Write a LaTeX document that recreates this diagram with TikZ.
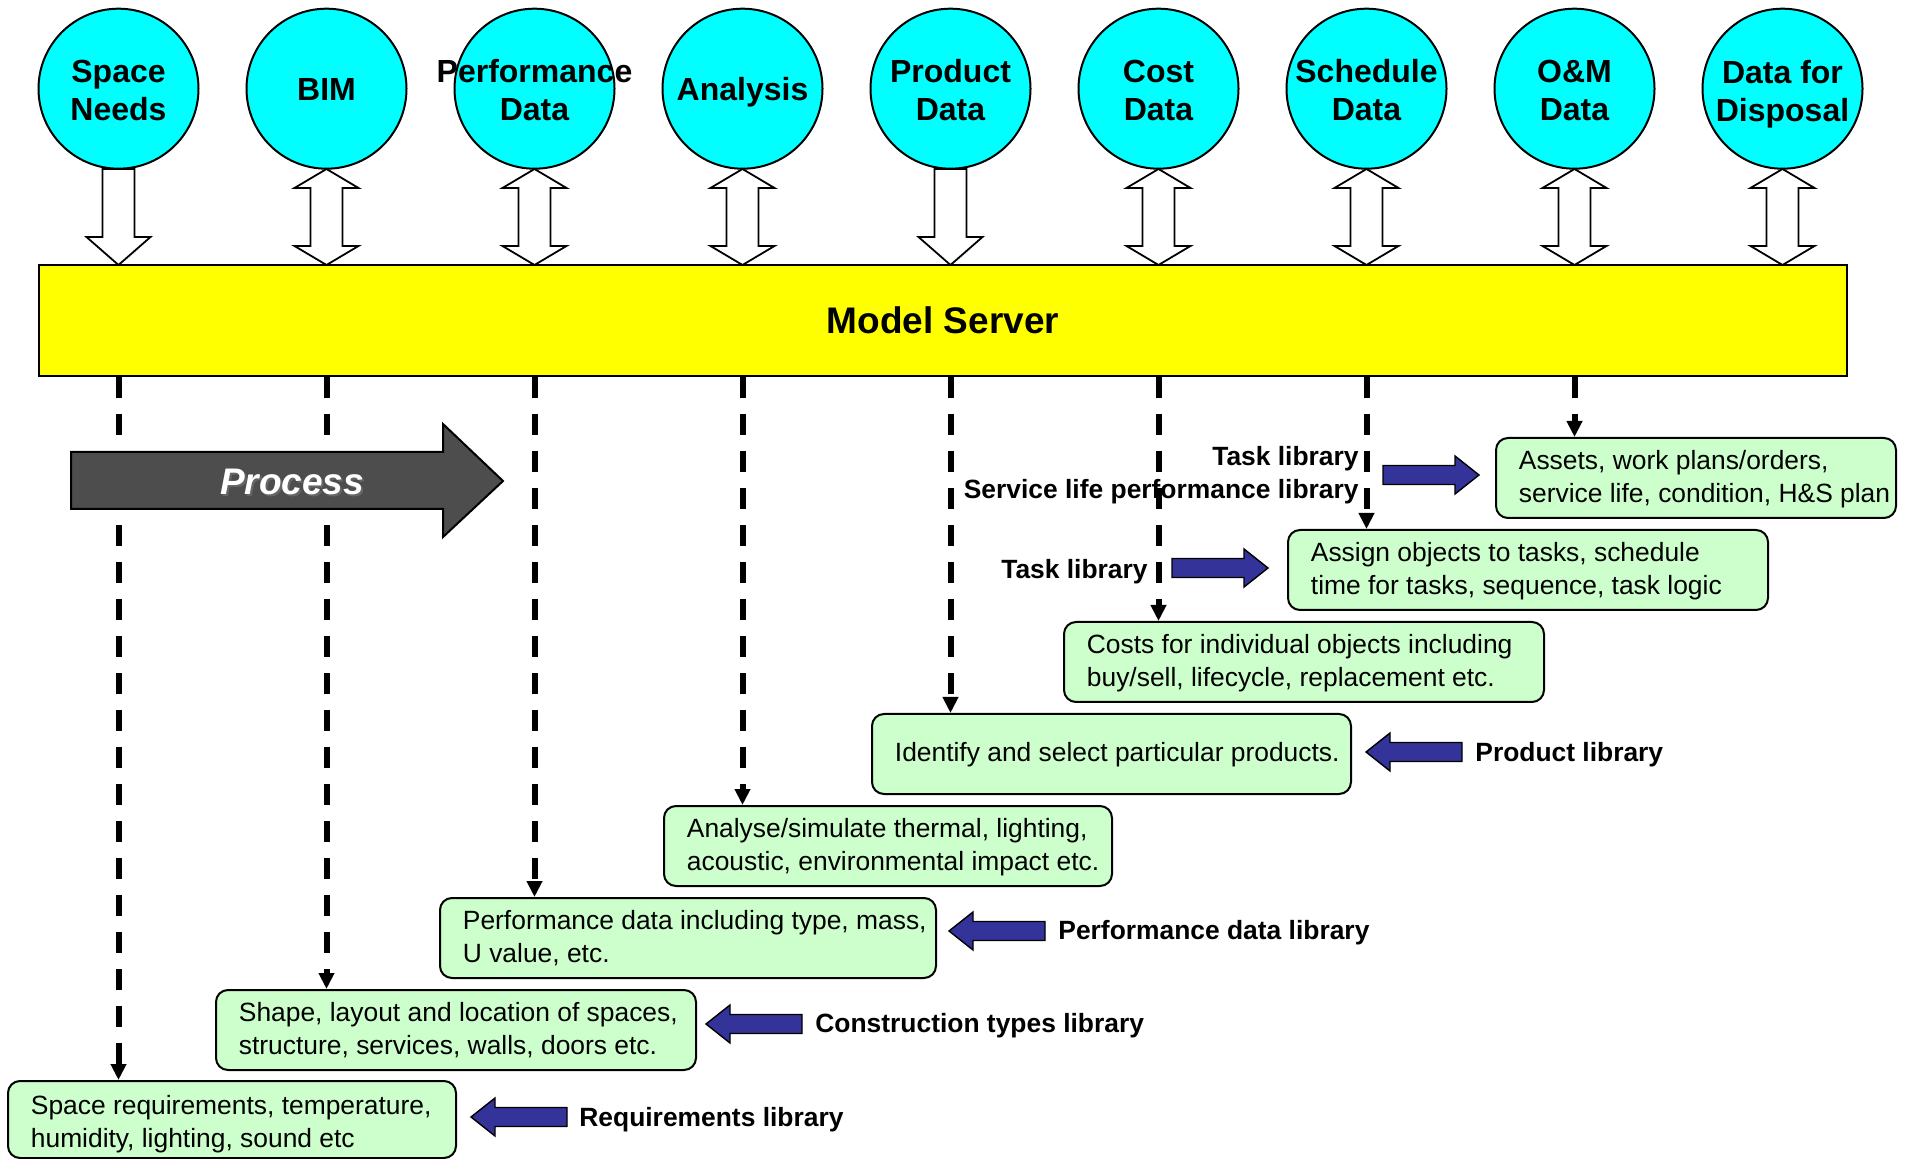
\documentclass[tikz,border=0pt]{standalone}
\usepackage{fontspec}
\setmainfont{Liberation Sans}
\usetikzlibrary{arrows.meta,calc}
\definecolor{circfill}{HTML}{00FFFF}
\definecolor{servfill}{HTML}{FFFF00}
\definecolor{boxgreen}{HTML}{CCFFCC}
\definecolor{navyarrow}{HTML}{333399}
\definecolor{procgray}{HTML}{4D4D4D}
\begin{document}
\begin{tikzpicture}[x=0.5pt,y=-0.5pt,
  circ/.style={circle, draw=black, line width=1pt, fill=circfill, minimum size=80pt, inner sep=0pt},
  ctext/.style={inner sep=0pt, align=center, font=\fontsize{16}{19}\selectfont\bfseries},
  serv/.style={rectangle, draw=black, line width=1.3pt, fill=servfill, minimum width=904pt, minimum height=55.5pt, font=\fontsize{18.5}{22}\selectfont\bfseries},
  hollow/.style={draw=black, line width=0.9pt, fill=white},
  dashc/.style={line width=3pt, dash pattern=on 10.5pt off 8pt, -{Triangle[width=7.5pt,length=8pt]}},
  gbox/.style={rectangle, rounded corners=6pt, draw=black, line width=1pt, fill=boxgreen, anchor=north west, inner sep=0pt, minimum height=40pt},
  gtext/.style={anchor=west, inner sep=0pt, align=left, font=\fontsize{13.2}{16.5}\selectfont},
  lab/.style={inner sep=0pt, font=\fontsize{13.2}{16.5}\selectfont\bfseries},
  barrow/.pic={\draw[line width=0.7pt, fill=navyarrow] (0,0) -- (24,-19) -- (24,-9.5) -- (96,-9.5) -- (96,9.5) -- (24,9.5) -- (24,19) -- cycle;}
]
\useasboundingbox (0,0) rectangle (1916,1159);

% circles
\foreach \i/\t/\dy in {0/{Space\\Needs}/0.8,1/{BIM}/0.6,2/{Performance\\Data}/0.8,3/{Analysis}/2,4/{Product\\Data}/0.8,5/{Cost\\Data}/0.8,6/{Schedule\\Data}/0.8,7/{O\&M\\Data}/0.8,8/{Data for\\Disposal}/2.8}{
  \node[circ] (c\i) at ({118.5+208*\i},88.7) {};
  \node[ctext] (ct\i) at ([yshift=-\dy pt]c\i.center) {\t};
}

% model server
\node[serv] (ms) at (943,320.5) {Model Server};

% hollow arrows
\foreach \i in {1,2,3,5,6,7,8}{
  \pgfmathsetmacro{\xx}{118.5+208*\i}
  \draw[hollow] (\xx,169) -- (\xx+32,188) -- (\xx+16,188) -- (\xx+16,246) -- (\xx+32,246) -- (\xx,265)
     -- (\xx-32,246) -- (\xx-16,246) -- (\xx-16,188) -- (\xx-32,188) -- cycle;
}
\foreach \i in {0,4}{
  \pgfmathsetmacro{\xx}{118.5+208*\i}
  \draw[hollow] (\xx-16,169) -- (\xx+16,169) -- (\xx+16,237) -- (\xx+32,237) -- (\xx,265)
     -- (\xx-32,237) -- (\xx-16,237) -- cycle;
}

% green boxes
\node[gbox, minimum width=224pt, minimum height=38.5pt] (g1) at (7,1080) {};
\node[gbox, minimum width=240pt] (g2) at (215,989) {};
\node[gbox, minimum width=248pt] (g3) at (439,897) {};
\node[gbox, minimum width=224pt] (g4) at (663,805) {};
\node[gbox, minimum width=239.5pt] (g5) at (871,713) {};
\node[gbox, minimum width=240pt] (g6) at (1063,621) {};
\node[gbox, minimum width=240pt] (g7) at (1287,529) {};
\node[gbox, minimum width=200pt] (g8) at (1495,437) {};

\node[gtext] (t1) at ([xshift=11.75pt,yshift=-2.3pt]g1.west) {Space requirements, temperature,\\humidity, lighting, sound etc};
\node[gtext] (t2) at ([xshift=11.75pt,yshift=-0.3pt]g2.west) {Shape, layout and location of spaces,\\structure, services, walls, doors etc.};
\node[gtext] (t3) at ([xshift=11.75pt,yshift=-0.3pt]g3.west) {Performance data including type, mass,\\U value, etc.};
\node[gtext] (t4) at ([xshift=11.75pt,yshift=-0.5pt]g4.west) {Analyse/simulate thermal, lighting,\\acoustic, environmental impact etc.};
\node[gtext] (t5) at ([xshift=11.75pt,yshift=-0.5pt]g5.west) {Identify and select particular products.};
\node[gtext] (t6) at ([xshift=11.75pt,yshift=-0.5pt]g6.west) {Costs for individual objects including\\buy/sell, lifecycle, replacement etc.};
\node[gtext] (t7) at ([xshift=11.75pt,yshift=-0.5pt]g7.west) {Assign objects to tasks, schedule\\time for tasks, sequence, task logic};
\node[gtext] (t8) at ([xshift=11.75pt,yshift=-0.5pt]g8.west) {Assets, work plans/orders,\\service life, condition, H\&S plan};

% dashed connectors
\foreach \i/\g in {0/g1,1/g2,2/g3,3/g4,4/g5,5/g6,6/g7,7/g8}
  \draw[dashc] (c\i |- ms.south) -- (c\i |- \g.north);

% process arrow
\draw[line width=1pt, fill=procgray] (71,452) -- (443,452) -- (443,424) -- (503,481) -- (443,537) -- (443,509) -- (71,509) -- cycle;
\node[text=black!60, font=\fontsize{18.5}{22}\selectfont\bfseries\itshape] (procsh) at (294,484) {Process};
\node[text=white, font=\fontsize{18.5}{22}\selectfont\bfseries\itshape] (proc) at (292,482) {Process};

% library labels
\node[lab, anchor=west] (l1) at (579,1120) {Requirements library};
\node[lab, anchor=west] (l2) at (815,1026) {Construction types library};
\node[lab, anchor=west] (l3) at (1058,933) {Performance data library};
\node[lab, anchor=west] (l5) at (1475,755) {Product library};
\node[lab, anchor=east] (l7) at (1148,572) {Task library};
\node[lab, anchor=east] (l8a) at (1359,459) {Task library};
\node[lab, anchor=east] (l8b) at (1359,492) {Service life performance library};

% blue block arrows
\pic at (471,1117) {barrow};
\pic at (706,1024) {barrow};
\pic at (949,931) {barrow};
\pic at (1366,752) {barrow};
\pic[rotate=180] at (1268,568) {barrow};
\pic[rotate=180] at (1479,475) {barrow};
\end{tikzpicture}
\end{document}
